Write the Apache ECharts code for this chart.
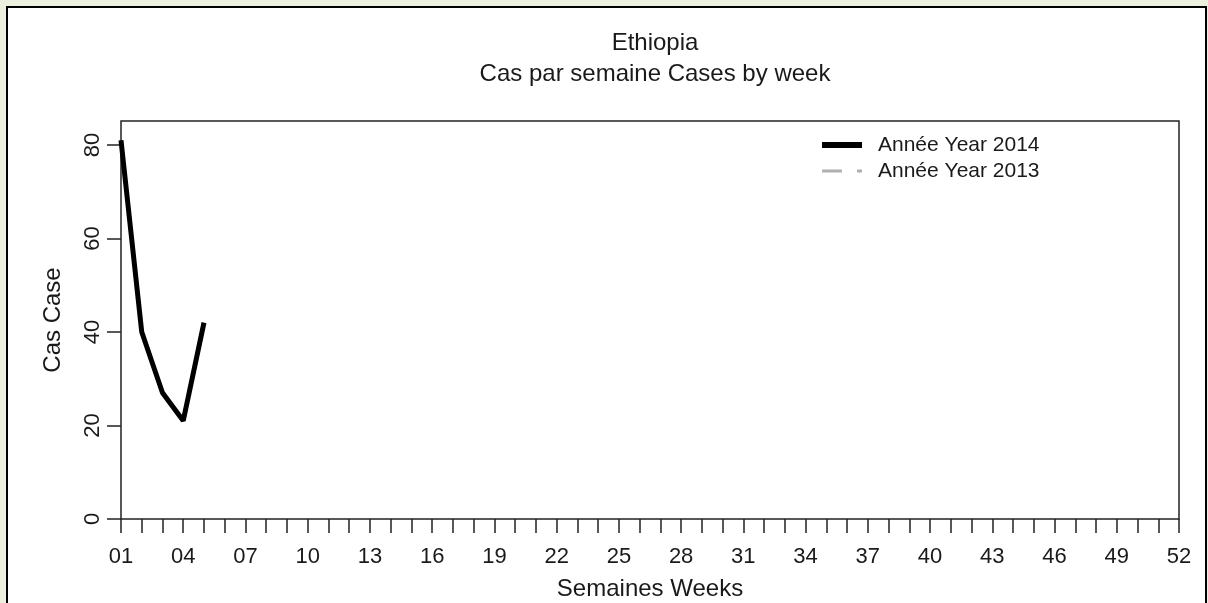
<!DOCTYPE html>
<html>
<head>
<meta charset="utf-8">
<script src="https://cdn.jsdelivr.net/npm/echarts@6/dist/echarts.min.js"></script>
<style>
html,body{margin:0;padding:0;background:#ebf1de;}
#chart{width:1208px;height:603px;}
</style>
</head>
<body>
<div id="chart"></div>
<script>
const weeks = [1, 2, 3, 4, 5];
const cases2014 = [81, 40, 27, 21, 42];
const cases2013 = [];
const yTicks = [0, 20, 40, 60, 80];
const xLabelWeeks = [1, 4, 7, 10, 13, 16, 19, 22, 25, 28, 31, 34, 37, 40, 43, 46, 49, 52];
const xTickWeeks = Array.from({length: 52}, (_, i) => i + 1);
const seriesNames = ['Année Year 2014', 'Année Year 2013'];

const FONT = '"Liberation Sans", Arial, sans-serif';
const TXT = '#1a1a1a';
const chart = echarts.init(document.getElementById('chart'), null, {renderer: 'canvas'});
chart.setOption({
  backgroundColor: '#ebf1de',
  animation: false,
  graphic: [{
    type: 'rect', z: -10, silent: true,
    shape: {x: 7, y: 7, width: 1199, height: 610},
    style: {fill: '#ffffff', stroke: '#000000', lineWidth: 2}
  }],
  title: [
    {text: 'Ethiopia', left: 650, top: 26, textAlign: 'center',
     textStyle: {fontFamily: FONT, fontSize: 24, fontWeight: 'normal', color: TXT}},
    {text: 'Cas par semaine Cases by week', left: 650, top: 57, textAlign: 'center',
     textStyle: {fontFamily: FONT, fontSize: 24, fontWeight: 'normal', color: TXT}}
  ],
  legend: {
    orient: 'vertical', left: 822, top: 134, padding: 0, itemWidth: 40, itemGap: 4,
    textStyle: {fontFamily: FONT, fontSize: 21, color: TXT, lineHeight: 22, padding: [0, 0, 0, 11]},
    data: [
      {name: seriesNames[0], icon: 'path://M0,0H40V6H0Z', itemStyle: {color: '#000'}},
      {name: seriesNames[1], icon: 'path://M0,0H20V3H0Z M35,0H40V3H35Z', itemStyle: {color: '#b0b0b0'}}
    ]
  },
  grid: {left: 121, top: 121, width: 1058, height: 398, outerBoundsMode: 'none', containLabel: false,
    show: true, borderColor: '#222', borderWidth: 1.5, backgroundColor: 'transparent'},
  xAxis: {
    type: 'value', min: 1, max: 52, interval: 1,
    name: 'Semaines Weeks', nameLocation: 'middle', nameGap: 58,
    nameTextStyle: {fontFamily: FONT, fontSize: 24, color: TXT},
    axisLine: {show: false},
    axisTick: {show: true, length: 14, lineStyle: {color: '#222', width: 1.5}, customValues: xTickWeeks},
    axisLabel: {fontFamily: FONT, fontSize: 22, color: TXT, margin: 27,
      customValues: xLabelWeeks, formatter: v => String(v).padStart(2, '0')},
    splitLine: {show: false}
  },
  yAxis: {
    type: 'value', min: 0, max: 85.13,
    name: 'Cas Case', nameLocation: 'middle', nameGap: 56, nameRotate: 90,
    nameTextStyle: {fontFamily: FONT, fontSize: 24, color: TXT},
    axisLine: {show: false},
    axisTick: {show: true, length: 14, lineStyle: {color: '#222', width: 1.5}, customValues: yTicks},
    axisLabel: {fontFamily: FONT, fontSize: 22, color: TXT, rotate: 90, margin: 17,
      customValues: yTicks},
    splitLine: {show: false}
  },
  series: [
    {name: seriesNames[0], type: 'line', data: weeks.map((w, i) => [w, cases2014[i]]),
     symbol: 'none', lineStyle: {color: '#000', width: 5}, itemStyle: {color: '#000'}},
    {name: seriesNames[1], type: 'line', data: cases2013,
     symbol: 'none', lineStyle: {color: '#b0b0b0', width: 3, type: [12, 12]}, itemStyle: {color: '#b0b0b0'}}
  ]
});
</script>
</body>
</html>
